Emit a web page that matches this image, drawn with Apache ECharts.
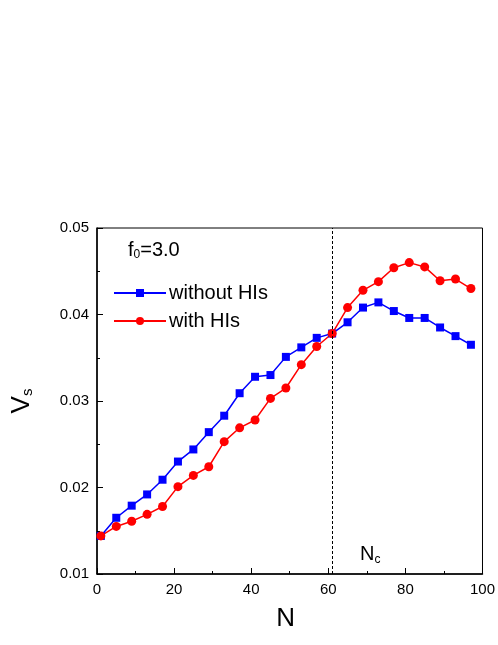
<!DOCTYPE html>
<html>
<head>
<meta charset="utf-8">
<script src="https://cdn.jsdelivr.net/npm/echarts@6/dist/echarts.min.js"></script>
<style>html,body{margin:0;padding:0;background:#fff}#plot{width:498px;height:645px}</style>
</head>
<body>
<div id="plot"></div>
<script>
"use strict";

// N values (step 4)
var nValues = [1, 5, 9, 13, 17, 21, 25, 29, 33, 37, 41, 45, 49, 53, 57, 61, 65, 69, 73, 77, 81, 85, 89, 93, 97];
var withoutHIs = [0.0144, 0.0165, 0.0179, 0.0192, 0.0209, 0.0230, 0.0244, 0.0264, 0.0283, 0.0309, 0.0328, 0.0330,
  0.0351, 0.0362, 0.0373, 0.0378, 0.0391, 0.0408, 0.0414, 0.0404, 0.0396, 0.0396, 0.0385, 0.0375, 0.0365];
var withHIs = [0.0144, 0.0155, 0.0161, 0.0169, 0.0178, 0.0201, 0.0214, 0.0224, 0.0253, 0.0269, 0.0278, 0.0303,
  0.0315, 0.0342, 0.0363, 0.0378, 0.0408, 0.0428, 0.0438, 0.0454, 0.0460, 0.0455, 0.0439, 0.0441, 0.0430];
var yTicks = [0.01, 0.02, 0.03, 0.04, 0.05];
var nCritical = 61;

function pairs(ys) {
  return nValues.map(function (n, i) { return [n, ys[i]]; });
}

var font = 'Liberation Sans, Arial, sans-serif';
var chart = echarts.init(document.getElementById('plot'));
chart.setOption({
  animation: false,
  backgroundColor: '#fff',
  grid: { left: 97, top: 228, width: 424, bottom: 71, show: true, borderColor: '#000', borderWidth: 1 },
  xAxis: {
    type: 'value', min: 0, max: 100, interval: 20,
    axisLine: { show: true, onZero: false, lineStyle: { color: '#000', width: 1.5 } },
    axisTick: { inside: true, length: 6, lineStyle: { color: '#000' } },
    minorTick: { show: true, splitNumber: 2, length: 3, lineStyle: { color: '#000' } },
    splitLine: { show: false },
    axisLabel: { color: '#000', fontSize: 15, fontFamily: font, margin: 8 },
    name: 'N', nameLocation: 'middle', nameGap: 32,
    nameTextStyle: { fontSize: 26, fontFamily: font, color: '#000', padding: [0, 0, 0, -8] }
  },
  yAxis: {
    type: 'value', min: yTicks[0], max: yTicks[yTicks.length - 1], interval: 0.01,
    axisLine: { show: true, lineStyle: { color: '#000', width: 1.5 } },
    axisTick: { inside: true, length: 6, lineStyle: { color: '#000' } },
    minorTick: { show: true, splitNumber: 2, length: 3, lineStyle: { color: '#000' } },
    splitLine: { show: false },
    axisLabel: { color: '#000', fontSize: 15, fontFamily: font, margin: 8,
      formatter: function (v) { return v.toFixed(2); } },
    name: '{a|V}{b|s}', nameLocation: 'middle', nameGap: 62, nameRotate: 90,
    nameTextStyle: { rich: {
      a: { fontSize: 26, fontFamily: font, color: '#000' },
      b: { fontSize: 15, fontFamily: font, color: '#000', verticalAlign: 'bottom', padding: [12, 0, 0, 0] }
    } }
  },
  legend: {
    left: 108, top: 278, orient: 'vertical', itemGap: 8, itemWidth: 52, itemHeight: 10,
    textStyle: { fontSize: 20, fontFamily: font, color: '#000', padding: [0, 0, 0, -2] },
    data: ['without HIs', 'with HIs']
  },
  graphic: [
    { type: 'text', left: 128, top: 240, style: { rich: {
      a: { fontSize: 20, fontFamily: font, fill: '#000' },
      b: { fontSize: 12, fontFamily: font, fill: '#000', padding: [10, 0, 0, 0] }
    }, text: '{a|f}{b|0}{a|=3.0}' } },
    { type: 'text', left: 360, top: 544, style: { rich: {
      a: { fontSize: 20, fontFamily: font, fill: '#000' },
      b: { fontSize: 12, fontFamily: font, fill: '#000', padding: [12, 0, 0, 0] }
    }, text: '{a|N}{b|c}' } }
  ],
  series: [
    {
      name: 'without HIs', type: 'line', data: pairs(withoutHIs),
      symbol: 'rect', symbolSize: 8, color: '#0000ff',
      lineStyle: { width: 1.5 }, clip: true,
      markLine: {
        silent: true, symbol: 'none', label: { show: false },
        lineStyle: { color: '#000', type: [3, 2], width: 1 },
        data: [{ xAxis: nCritical }]
      }
    },
    {
      name: 'with HIs', type: 'line', data: pairs(withHIs),
      symbol: 'circle', symbolSize: 9, color: '#ff0000',
      lineStyle: { width: 1.5 }, clip: true
    }
  ]
});
</script>
</body>
</html>
